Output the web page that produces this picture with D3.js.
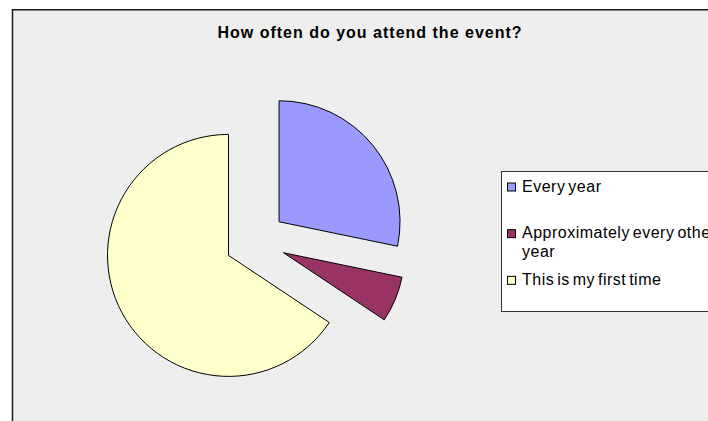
<!DOCTYPE html>
<html><head><meta charset="utf-8">
<script src="https://cdn.jsdelivr.net/npm/d3@7"></script>
<style>html,body{margin:0;padding:0;background:#fff;overflow:hidden}</style>
</head><body><svg id="c" width="708" height="421"></svg>
<script>
const title = "How often do you attend the event?";
const categories = ["Every year", "Approximately every other year", "This is my first time"];
const values = [37, 8, 86];
const colors = ["#9999FF", "#993366", "#FFFFCC"];

const svg = d3.select("#c");
const font = "'Liberation Sans', Arial, sans-serif";

// chart area
svg.append("rect").attr("x", 12.5).attr("y", 9.75).attr("width", 720).attr("height", 430)
  .attr("fill", "#EEEEEE").attr("stroke", "#1a1a1a").attr("stroke-width", 1.5);

// title
svg.append("text").attr("x", 370).attr("y", 38).attr("text-anchor", "middle")
  .attr("font-family", font).attr("font-weight", "bold").attr("font-size", 16)
  .attr("letter-spacing", 1).attr("fill", "#000").text(title);

// pie
const cx = 255.4, cy = 241, r = 121, explode = 30.5;
const pie = d3.pie().sort(null).value(d => d)(values);
const arc = d3.arc().innerRadius(0).outerRadius(r);
const g = svg.append("g").attr("transform", `translate(${cx},${cy})`);
g.selectAll("path").data(pie).join("path")
  .attr("d", arc)
  .attr("transform", d => {
    const a = (d.startAngle + d.endAngle) / 2;
    return `translate(${explode * Math.sin(a)},${-explode * Math.cos(a)})`;
  })
  .attr("fill", (d, i) => colors[i]).attr("stroke", "#000").attr("stroke-width", 1)
  .attr("stroke-linejoin", "miter");

// legend
const lgTop = 171.5, lgBottom = 311.5, lgLeft = 501.5;
svg.append("rect").attr("x", lgLeft).attr("y", lgTop).attr("width", 260).attr("height", lgBottom - lgTop)
  .attr("fill", "#FFFFFF").attr("stroke", "#333").attr("stroke-width", 1);
const band = d3.scaleBand().domain(categories).range([lgTop, lgBottom]);
const maxW = 205;
const items = svg.append("g").selectAll("g").data(categories).join("g");
items.append("rect")
  .attr("x", 507.5).attr("y", d => band(d) + 11.5).attr("width", 8).attr("height", 8)
  .attr("fill", (d, i) => colors[i]).attr("stroke", "#000").attr("stroke-width", 1);
items.append("text")
  .attr("font-family", font).attr("font-size", 16).attr("fill", "#000")
  .attr("letter-spacing", 0.5).attr("word-spacing", -2)
  .each(function (d) {
    const t = d3.select(this);
    const words = d.split(" ");
    const x = 522, y0 = band(d) + 20;
    let line = [], li = 0;
    let ts = t.append("tspan").attr("x", x).attr("y", y0);
    for (const w of words) {
      line.push(w);
      ts.text(line.join(" "));
      if (ts.node().getComputedTextLength() > maxW && line.length > 1) {
        line.pop();
        ts.text(line.join(" "));
        line = [w];
        li++;
        ts = t.append("tspan").attr("x", x).attr("y", y0 + li * 19.3).text(w);
      }
    }
  });
</script>
</body></html>
